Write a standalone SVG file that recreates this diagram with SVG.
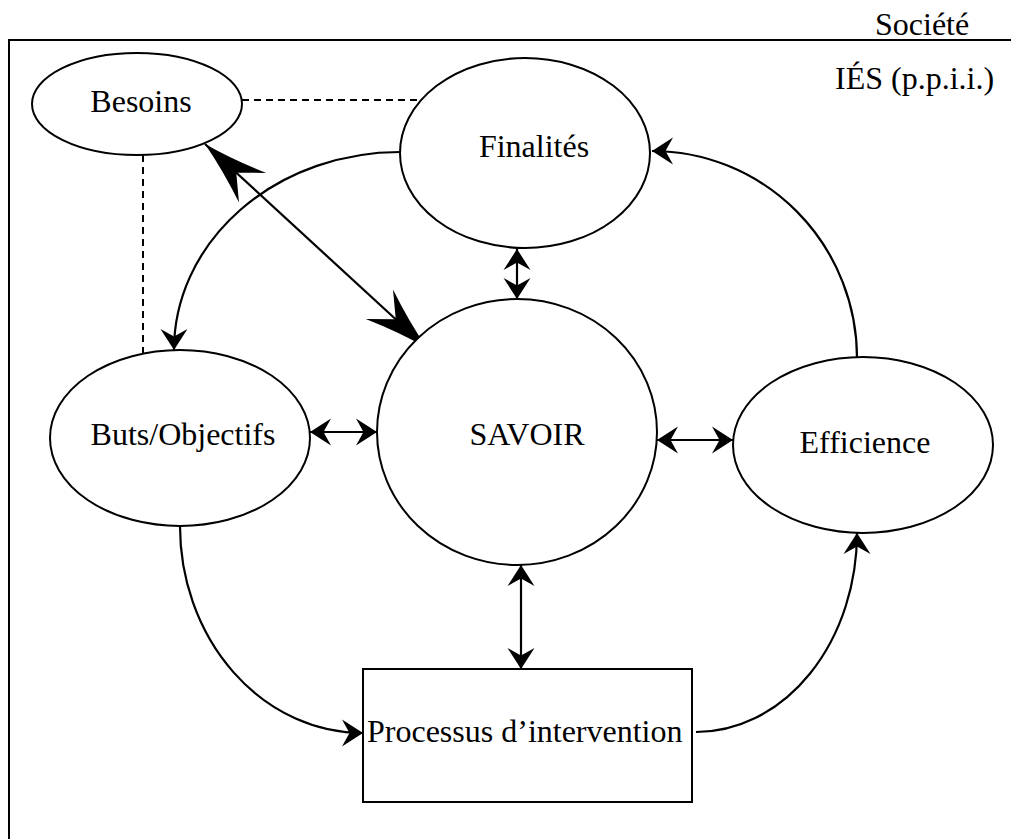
<svg xmlns="http://www.w3.org/2000/svg" width="1011" height="839" viewBox="0 0 1011 839">
<style>
  .node { fill: #fff; stroke: #000; stroke-width: 2; }
  .lbl { font-family: "Liberation Serif", "Times New Roman", serif; font-size: 32px; fill: #000; }
  .conn { fill: none; stroke: #000; stroke-width: 2.2; }
  .dash { fill: none; stroke: #000; stroke-width: 2; stroke-dasharray: 7 5; }
  .frame { fill: none; stroke: #000; stroke-width: 2; }
</style>
<defs>
  <marker id="ah" markerUnits="userSpaceOnUse" markerWidth="30" markerHeight="30" viewBox="-16 -10 18 20" refX="0" refY="0" orient="auto-start-reverse">
    <path d="M0,0 L-14,-9 L-9,0 L-14,9 Z" fill="#000"/>
  </marker>
  <marker id="big" markerUnits="userSpaceOnUse" markerWidth="70" markerHeight="50" viewBox="-64 -22 66 44" refX="0" refY="0" orient="auto-start-reverse">
    <path d="M0,0 Q-30,-7 -61,-19 L-40,0 L-61,19 Q-30,7 0,0 Z" fill="#000"/>
  </marker>
</defs>
<rect width="1011" height="839" fill="#fff"/>

<g id="frame">
  <path class="frame" d="M9,839 L9,40 L1011,40"/>
  <text class="lbl" x="875" y="35">Société</text>
  <text class="lbl" x="835" y="89">IÉS (p.p.i.i.)</text>
</g>

<g id="connectors">
  <line class="dash" x1="242" y1="100" x2="421" y2="100"/>
  <line class="dash" x1="143" y1="155" x2="143" y2="353"/>
  <line class="conn" x1="205" y1="144" x2="427" y2="348" marker-start="url(#big)" marker-end="url(#big)"/>
  <line class="conn" x1="517" y1="249" x2="517" y2="299" marker-start="url(#ah)" marker-end="url(#ah)"/>
  <line class="conn" x1="310" y1="432" x2="377" y2="432" marker-start="url(#ah)" marker-end="url(#ah)"/>
  <line class="conn" x1="657" y1="440" x2="733" y2="440" marker-start="url(#ah)" marker-end="url(#ah)"/>
  <line class="conn" x1="521" y1="565" x2="521" y2="669" marker-start="url(#ah)" marker-end="url(#ah)"/>
  <path class="conn" d="M400,152 A226,198 0 0 0 174,350" marker-end="url(#ah)"/>
  <path class="conn" d="M857,358 A205,207 0 0 0 652,151" marker-end="url(#ah)"/>
  <path class="conn" d="M180,526 A183,207 0 0 0 363,733" marker-end="url(#ah)"/>
  <path class="conn" d="M696,732 A161,199 0 0 0 857,533" marker-end="url(#ah)"/>
</g>

<g id="besoins">
  <ellipse class="node" cx="137" cy="104" rx="105" ry="51"/>
  <text class="lbl" x="141" y="112" text-anchor="middle">Besoins</text>
</g>
<g id="finalites">
  <ellipse class="node" cx="525" cy="153" rx="125" ry="95"/>
  <text class="lbl" x="534" y="157" text-anchor="middle">Finalités</text>
</g>
<g id="buts">
  <ellipse class="node" cx="180" cy="438" rx="130" ry="88"/>
  <text class="lbl" x="183" y="445" text-anchor="middle">Buts/Objectifs</text>
</g>
<g id="savoir">
  <ellipse class="node" cx="517" cy="432" rx="140" ry="133"/>
  <text class="lbl" x="527" y="445" text-anchor="middle">SAVOIR</text>
</g>
<g id="efficience">
  <ellipse class="node" cx="863" cy="445" rx="130" ry="88"/>
  <text class="lbl" x="865" y="453" text-anchor="middle">Efficience</text>
</g>
<g id="processus">
  <rect class="node" x="363" y="669" width="329" height="133"/>
  <text class="lbl" x="367" y="742">Processus d’intervention</text>
</g>
</svg>
